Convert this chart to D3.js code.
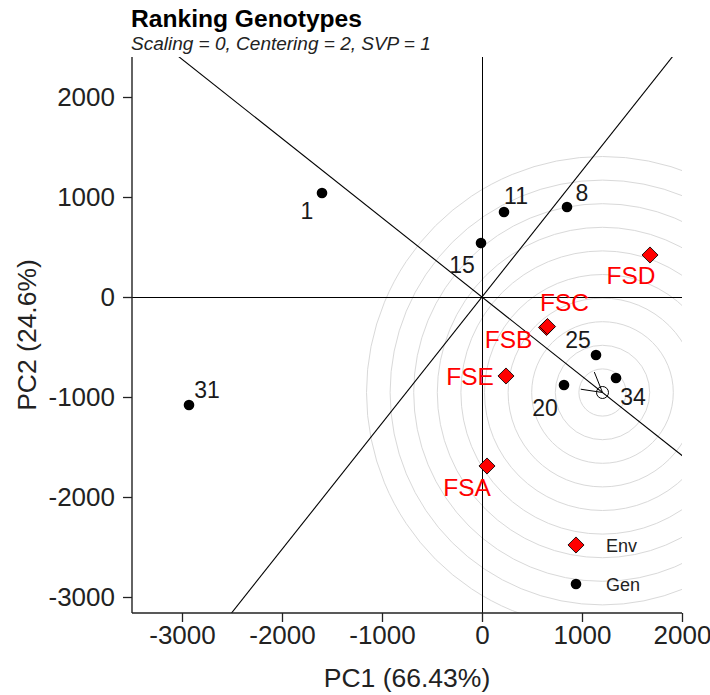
<!DOCTYPE html>
<html>
<head>
<meta charset="utf-8">
<title>Ranking Genotypes</title>
<script src="https://cdn.jsdelivr.net/npm/d3@7"></script>
<style>
  body { margin: 0; background: #fff; }
  text { font-family: "Liberation Sans", Arial, sans-serif; }
</style>
</head>
<body>
<script>
// genotypes (black dots)
var genLabels = ["1", "11", "8", "15", "25", "34", "20", "31"];
var genPC1 = [-1600, 220, 850, -10, 1140, 1340, 820, -2930];
var genPC2 = [1040, 850, 900, 540, -580, -810, -880, -1080];

// environments (red diamonds)
var envLabels = ["FSA", "FSB", "FSC", "FSD", "FSE"];
var envPC1 = [50, 645, 655, 1680, 240];
var envPC2 = [-1690, -305, -295, 420, -790];

// ideal genotype + rings around it
var ideal = [1205, -955];
var ringStep = 236;
var ringCount = 10;

var xTicks = [-3000, -2000, -1000, 0, 1000, 2000];
var yTicks = [-3000, -2000, -1000, 0, 1000, 2000];

var width = 710, height = 695;
var plot = {left: 132, right: 682, top: 57, bottom: 613};

var svg = d3.select("body").append("svg")
    .attr("width", width)
    .attr("height", height);

var x = d3.scaleLinear().domain([-3500, 2000]).range([plot.left, plot.right]);
var y = d3.scaleLinear().domain([-3160, 2400]).range([plot.bottom, plot.top]);

// label nudges in px (where the text sits relative to its point)
var genNudge = {"1": [-15, 18], "11": [12, -16], "8": [15, -14], "15": [-19, 22],
                "25": [-18, -15], "34": [17, 19], "20": [-19, 23], "31": [18, -15]};
var envNudge = {"FSA": [-20, 21], "FSB": [-38, 12], "FSC": [17, -24],
                "FSD": [-19, 20], "FSE": [-36, 0]};

svg.append("defs").append("clipPath").attr("id", "clip")
  .append("rect")
    .attr("x", plot.left).attr("y", plot.top)
    .attr("width", plot.right - plot.left)
    .attr("height", plot.bottom - plot.top);

var g = svg.append("g").attr("clip-path", "url(#clip)");

// concentric rings
var pxPerUnit = x(1) - x(0);
g.selectAll(".ring")
  .data(d3.range(1, ringCount + 1))
  .enter().append("circle")
    .attr("class", "ring")
    .attr("cx", x(ideal[0]))
    .attr("cy", y(ideal[1]))
    .attr("r", function(k) { return k * ringStep * pxPerUnit; })
    .attr("fill", "none")
    .attr("stroke", "#d9d9d9")
    .attr("stroke-width", 1);

// axes through origin
g.append("line")
    .attr("x1", x(-3500)).attr("x2", x(2000))
    .attr("y1", y(0) + 0.5).attr("y2", y(0) + 0.5)
    .attr("stroke", "#000");
g.append("line")
    .attr("x1", x(0) + 0.5).attr("x2", x(0) + 0.5)
    .attr("y1", y(-3160)).attr("y2", y(2400))
    .attr("stroke", "#000");

// AEC line through ideal and its perpendicular
var s = ideal[1] / ideal[0];
var big = 10000;
g.append("line")
    .attr("x1", x(-big)).attr("y1", y(-big * s))
    .attr("x2", x(big)).attr("y2", y(big * s))
    .attr("stroke", "#000").attr("stroke-width", 1.1);
g.append("line")
    .attr("x1", x(-big)).attr("y1", y(big / s))
    .attr("x2", x(big)).attr("y2", y(-big / s))
    .attr("stroke", "#000").attr("stroke-width", 1.1);

// arrow head pointing at ideal
var ix = x(ideal[0]), iy = y(ideal[1]);
var ang = Math.atan2(iy - y(0), ix - x(0)) + Math.PI;
[-0.52, 0.52].forEach(function(a) {
  g.append("line")
    .attr("x1", ix).attr("y1", iy)
    .attr("x2", ix + 22 * Math.cos(ang + a))
    .attr("y2", iy + 22 * Math.sin(ang + a))
    .attr("stroke", "#000");
});
g.append("circle")
    .attr("cx", ix).attr("cy", iy).attr("r", 6)
    .attr("fill", "none").attr("stroke", "#000");

// genotypes
var gens = genLabels.map(function(d, i) { return {lab: d, px: genPC1[i], py: genPC2[i]}; });
g.selectAll(".gen")
  .data(gens)
  .enter().append("circle")
    .attr("class", "gen")
    .attr("cx", function(d) { return x(d.px); })
    .attr("cy", function(d) { return y(d.py); })
    .attr("r", 5.3)
    .attr("fill", "#000");
g.selectAll(".genlab")
  .data(gens)
  .enter().append("text")
    .attr("class", "genlab")
    .attr("x", function(d) { return x(d.px) + genNudge[d.lab][0]; })
    .attr("y", function(d) { return y(d.py) + genNudge[d.lab][1]; })
    .attr("text-anchor", "middle")
    .attr("dominant-baseline", "central")
    .attr("font-size", 23)
    .attr("fill", "#1a1a1a")
    .text(function(d) { return d.lab; });

// environments
var envs = envLabels.map(function(d, i) { return {lab: d, px: envPC1[i], py: envPC2[i]}; });
var diamond = d3.symbol().type(d3.symbolSquare).size(130);
g.selectAll(".env")
  .data(envs)
  .enter().append("path")
    .attr("class", "env")
    .attr("d", diamond)
    .attr("transform", function(d) { return "translate(" + x(d.px) + "," + y(d.py) + ") rotate(45)"; })
    .attr("fill", "#ff0000")
    .attr("stroke", "#000")
    .attr("stroke-width", 0.8);
g.selectAll(".envlab")
  .data(envs)
  .enter().append("text")
    .attr("class", "envlab")
    .attr("x", function(d) { return x(d.px) + envNudge[d.lab][0]; })
    .attr("y", function(d) { return y(d.py) + envNudge[d.lab][1]; })
    .attr("text-anchor", "middle")
    .attr("dominant-baseline", "central")
    .attr("font-size", 24.5)
    .attr("fill", "#ff0000")
    .text(function(d) { return d.lab; });

// legend
var leg = svg.append("g").attr("transform", "translate(576,545)");
leg.append("path").attr("d", diamond)
    .attr("transform", "rotate(45)")
    .attr("fill", "#ff0000").attr("stroke", "#000").attr("stroke-width", 0.8);
leg.append("circle").attr("cy", 39).attr("r", 5.3).attr("fill", "#000");
leg.append("text").attr("x", 30).attr("y", 1).attr("dominant-baseline", "central")
    .attr("font-size", 18).attr("fill", "#222").text("Env");
leg.append("text").attr("x", 30).attr("y", 40).attr("dominant-baseline", "central")
    .attr("font-size", 18).attr("fill", "#222").text("Gen");

// axes
var xAxis = d3.axisBottom(x).tickValues(xTicks).tickSize(9).tickPadding(4).tickFormat(d3.format("d"));
var yAxis = d3.axisLeft(y).tickValues(yTicks).tickSize(9).tickPadding(8).tickFormat(d3.format("d"));

var gx = svg.append("g")
    .attr("transform", "translate(0," + plot.bottom + ")")
    .call(xAxis);
var gy = svg.append("g")
    .attr("transform", "translate(" + plot.left + ",0)")
    .call(yAxis);
[gx, gy].forEach(function(a) {
  a.select(".domain").remove();
  a.selectAll(".tick line").attr("stroke", "#222").attr("stroke-width", 1.3);
  a.selectAll(".tick text")
    .attr("font-size", 26)
    .attr("fill", "#222")
    .style("font-family", "'Liberation Sans', Arial, sans-serif")
    .text(function(d) { return d < 0 ? "-" + Math.abs(d) : d; });
});
svg.append("line")
    .attr("x1", plot.left).attr("x2", plot.right)
    .attr("y1", plot.bottom).attr("y2", plot.bottom)
    .attr("stroke", "#222").attr("stroke-width", 1.4);
svg.append("line")
    .attr("x1", plot.left).attr("x2", plot.left)
    .attr("y1", plot.top).attr("y2", plot.bottom)
    .attr("stroke", "#222").attr("stroke-width", 1.4);

// titles
svg.append("text")
    .attr("x", (plot.left + plot.right) / 2).attr("y", 687)
    .attr("text-anchor", "middle")
    .attr("font-size", 26.5).attr("fill", "#222")
    .text("PC1 (66.43%)");
svg.append("text")
    .attr("transform", "translate(36,335) rotate(-90)")
    .attr("text-anchor", "middle")
    .attr("font-size", 26.5).attr("fill", "#222")
    .text("PC2 (24.6%)");
svg.append("text")
    .attr("x", 131).attr("y", 27)
    .attr("font-size", 24.6).attr("font-weight", "bold").attr("fill", "#000")
    .text("Ranking Genotypes");
svg.append("text")
    .attr("x", 131).attr("y", 50)
    .attr("font-size", 19).attr("font-style", "italic").attr("fill", "#222")
    .text("Scaling = 0, Centering = 2, SVP = 1");
</script>
</body>
</html>
